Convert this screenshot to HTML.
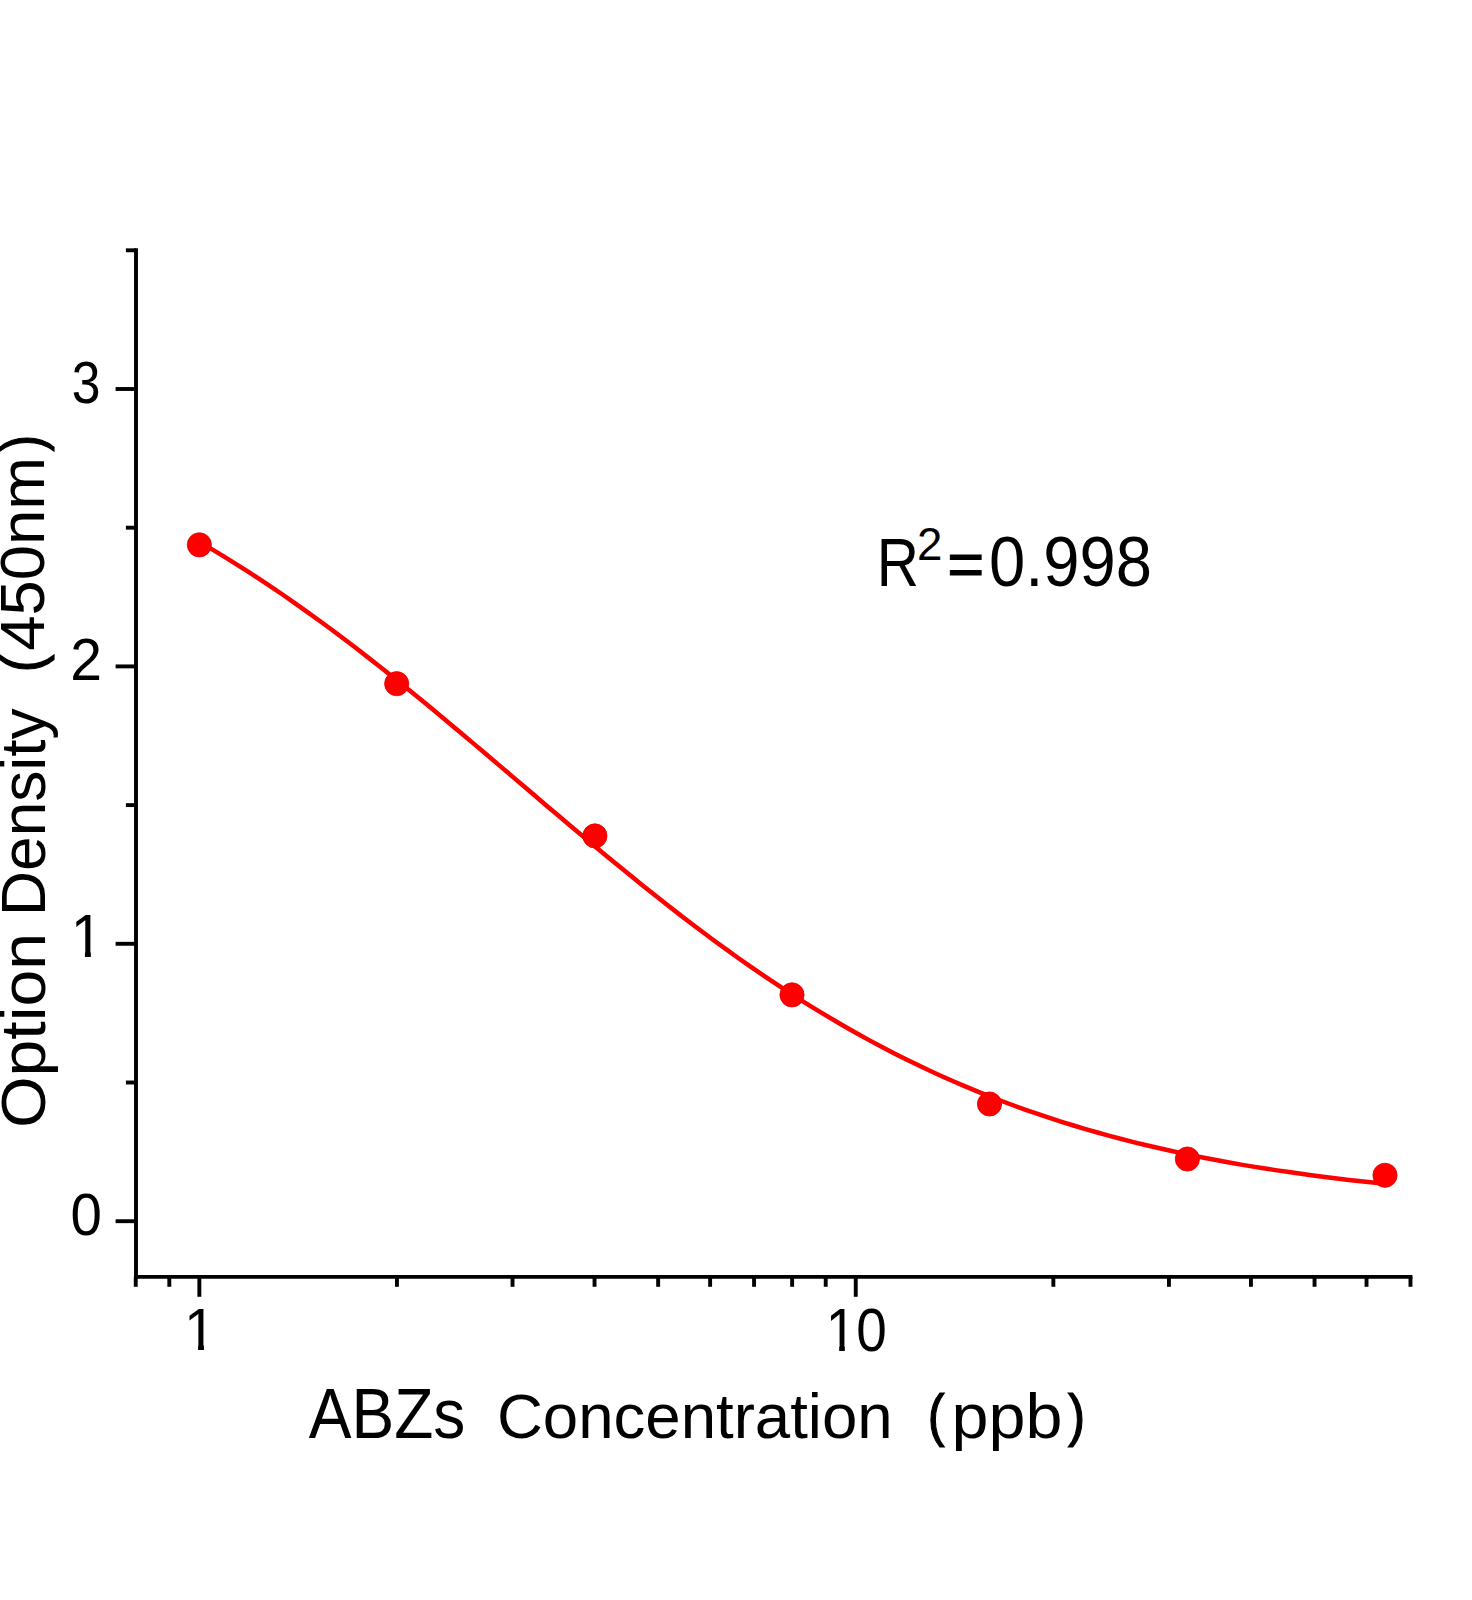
<!DOCTYPE html>
<html><head><meta charset="utf-8"><title>ABZs standard curve</title>
<style>
html,body{margin:0;padding:0;background:#fff}
svg{display:block}
text{font-family:"Liberation Sans",sans-serif;fill:#000}
</style></head><body>
<svg width="1472" height="1600" viewBox="0 0 1472 1600" role="img" aria-label="Standard curve: Option Density (450nm) versus ABZs Concentration (ppb), R2=0.998">
<rect width="1472" height="1600" fill="#fff"/>
<defs><clipPath id="k1"><rect x="65.83" y="896.76" width="50.45" height="55.12"/><rect x="84.96" y="950.78" width="5.91" height="7.52"/></clipPath><clipPath id="k2"><rect x="179.11" y="1290.32" width="50.01" height="54.51"/><rect x="198.08" y="1343.73" width="5.85" height="7.47"/></clipPath><clipPath id="k3"><rect x="820.76" y="1290.03" width="81.43" height="55.05"/><rect x="839.18" y="1343.98" width="5.66" height="7.52"/><rect x="857.08" y="1343.98" width="38.46" height="9.52"/></clipPath></defs>
<g stroke="#000" stroke-width="3.9" fill="none">
<path d="M136.00 248.35V1278.80"/>
<path d="M134.05 1276.85H1412.42"/>
<path d="M136.00 1221.20H115.6"/>
<path d="M136.00 943.80H115.6"/>
<path d="M136.00 666.40H115.6"/>
<path d="M136.00 389.00H115.6"/>
<path d="M136.00 1082.50H125.9"/>
<path d="M136.00 805.10H125.9"/>
<path d="M136.00 527.70H125.9"/>
<path d="M136.00 250.30H125.9"/>
<path d="M199.35 1276.85V1296.8"/>
<path d="M855.75 1276.85V1296.8"/>
<path d="M135.74 1276.85V1286.8"/>
<path d="M169.31 1276.85V1286.8"/>
<path d="M396.95 1276.85V1286.8"/>
<path d="M512.53 1276.85V1286.8"/>
<path d="M594.54 1276.85V1286.8"/>
<path d="M658.15 1276.85V1286.8"/>
<path d="M710.13 1276.85V1286.8"/>
<path d="M754.07 1276.85V1286.8"/>
<path d="M792.14 1276.85V1286.8"/>
<path d="M825.71 1276.85V1286.8"/>
<path d="M1053.35 1276.85V1286.8"/>
<path d="M1168.93 1276.85V1286.8"/>
<path d="M1250.94 1276.85V1286.8"/>
<path d="M1314.55 1276.85V1286.8"/>
<path d="M1366.53 1276.85V1286.8"/>
<path d="M1410.47 1276.85V1286.8"/>
</g>
<path d="M199.3 541.9L211.3 548.9L223.3 556.1L235.3 563.6L247.3 571.2L259.2 578.9L271.2 586.9L283.2 595.0L295.2 603.4L307.1 611.8L319.1 620.5L331.1 629.3L343.1 638.2L355.0 647.3L367.0 656.6L379.0 666.0L391.0 675.5L402.9 685.1L414.9 694.8L426.9 704.6L438.9 714.5L450.8 724.5L462.8 734.5L474.8 744.6L486.8 754.7L498.7 764.9L510.7 775.1L522.7 785.3L534.7 795.5L546.6 805.7L558.6 815.8L570.6 826.0L582.6 836.0L594.5 846.0L606.5 856.0L618.5 865.8L630.5 875.6L642.4 885.3L654.4 894.8L666.4 904.3L678.4 913.6L690.3 922.8L702.3 931.8L714.3 940.7L726.3 949.4L738.2 958.0L750.2 966.4L762.2 974.6L774.2 982.7L786.2 990.6L798.1 998.3L810.1 1005.8L822.1 1013.1L834.1 1020.3L846.0 1027.2L858.0 1034.0L870.0 1040.6L882.0 1047.0L893.9 1053.2L905.9 1059.2L917.9 1065.1L929.9 1070.7L941.8 1076.2L953.8 1081.5L965.8 1086.6L977.8 1091.6L989.7 1096.4L1001.7 1101.0L1013.7 1105.5L1025.7 1109.8L1037.6 1113.9L1049.6 1117.9L1061.6 1121.8L1073.6 1125.5L1085.5 1129.1L1097.5 1132.5L1109.5 1135.8L1121.5 1139.0L1133.4 1142.1L1145.4 1145.0L1157.4 1147.8L1169.4 1150.5L1181.3 1153.1L1193.3 1155.6L1205.3 1158.0L1217.3 1160.3L1229.2 1162.5L1241.2 1164.6L1253.2 1166.6L1265.2 1168.5L1277.1 1170.4L1289.1 1172.1L1301.1 1173.8L1313.1 1175.5L1325.0 1177.0L1337.0 1178.5L1349.0 1179.9L1361.0 1181.3L1373.0 1182.6L1384.9 1183.8" fill="none" stroke="#fe0000" stroke-width="4.5" stroke-linejoin="round"/>
<g fill="#fe0000" stroke="#e00000" stroke-width="0.8"><circle cx="199.35" cy="544.85" r="12.1"/><circle cx="396.7" cy="683.7" r="12.1"/><circle cx="594.9" cy="835.9" r="12.1"/><circle cx="792" cy="994.85" r="12.1"/><circle cx="989.5" cy="1104.0" r="12.1"/><circle cx="1187.4" cy="1159.0" r="12.1"/><circle cx="1385" cy="1175.3" r="12.1"/></g>
<g class="ytitle" transform="rotate(-90)">
<text transform="translate(-1128.04 44.70) scale(1.0519 1)" font-size="63.00">Option</text>
<text transform="translate(-915.91 44.70) scale(0.9879 1)" font-size="63.00">Density</text>
<text stroke="#000" stroke-width="1.2" transform="translate(-672.17 41.83) scale(0.9212 1)" font-size="57.32">(</text><text transform="translate(-650.75 44.30) scale(0.9978 1)" font-size="63.50">450nm</text><text stroke="#000" stroke-width="1.2" transform="translate(-451.59 41.83) scale(0.8620 1)" font-size="57.32">)</text>
</g>
<g class="yticks">
<text transform="translate(71.63 402.72) scale(0.8711 1)" font-size="59.32">3</text>
<text transform="translate(70.33 679.90) scale(0.9673 1)" font-size="59.00">2</text>
<g clip-path="url(#k1)"><text transform="translate(70.83 957.30) scale(0.9544 1)" font-size="60.54">1</text></g>
<text transform="translate(70.49 1234.82) scale(0.9544 1)" font-size="59.18">0</text>
</g>
<g class="note"><text transform="translate(876.71 585.90) scale(0.8470 1)" font-size="69.00">R</text><text transform="translate(916.90 559.80) scale(0.9714 1)" font-size="47.00">2</text><text stroke="#000" stroke-width="1.0" stroke-linejoin="miter" transform="translate(947.30 585.37) scale(1.0266 1)" font-size="61.75">=</text><text transform="translate(988.95 586.30) scale(0.9179 1)" font-size="71.00">0.998</text></g>
<g class="xticks">
<g clip-path="url(#k2)"><text transform="translate(184.11 1350.20) scale(0.9544 1)" font-size="59.88">1</text></g>
<g clip-path="url(#k3)"><text transform="translate(825.76 1350.50) scale(0.9087 1)" font-size="60.47">10</text></g>
</g>
<g class="xtitle">
<text transform="translate(308.67 1438.20) scale(0.9153 1)" font-size="70.00">ABZs</text>
<text transform="translate(496.97 1437.70) scale(1.0090 1)" font-size="63.00">Concentration</text>
<text stroke="#000" stroke-width="1.2" transform="translate(927.67 1435.19) scale(0.8785 1)" font-size="57.53">(</text><text transform="translate(951.41 1437.60) scale(1.0475 1)" font-size="63.50">ppb</text><text stroke="#000" stroke-width="1.2" transform="translate(1068.10 1435.19) scale(0.8981 1)" font-size="57.53">)</text>
</g>
</svg>
</body></html>
